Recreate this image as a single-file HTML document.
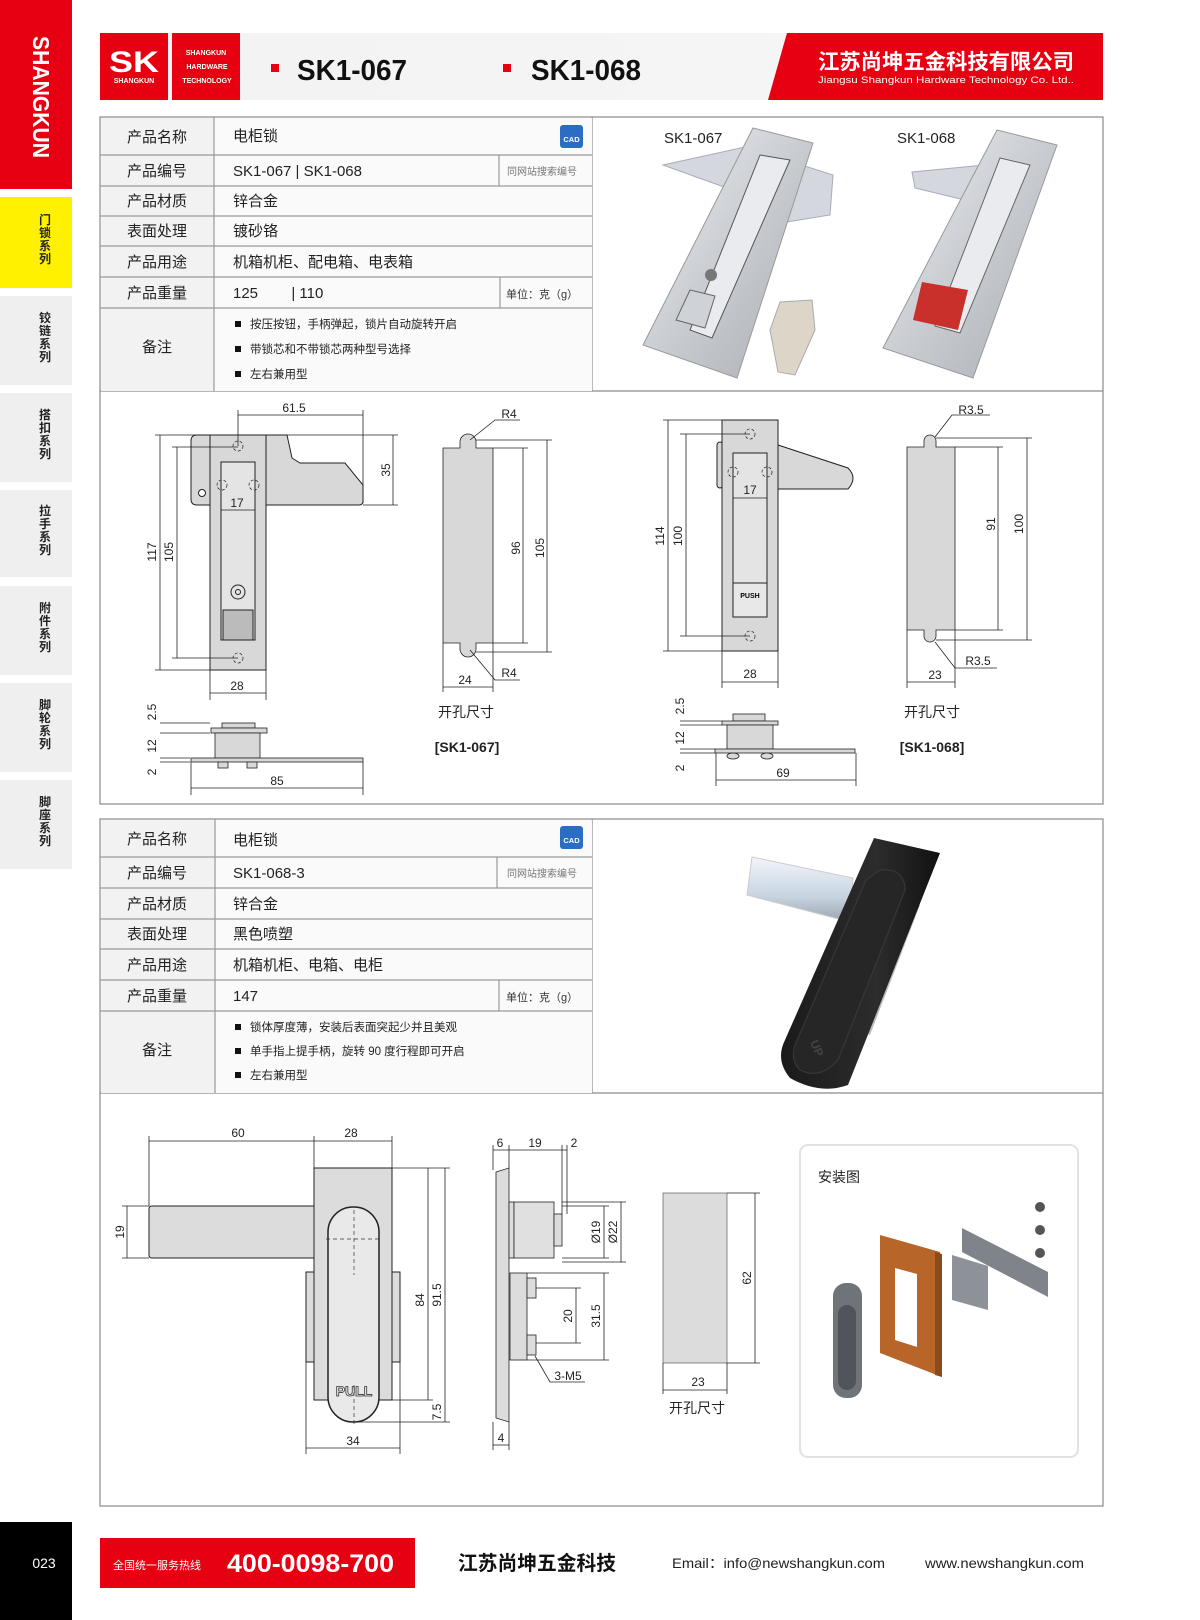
<!DOCTYPE html>
<html><head><meta charset="utf-8"><style>
html,body{margin:0;padding:0;background:#fff;}
svg{display:block;}
text{font-family:"Liberation Sans","Noto Sans CJK SC",sans-serif;}
.lb{font-size:15px;fill:#222;text-anchor:middle;}
.vl{font-size:15px;fill:#222;}
.sm{font-size:10px;fill:#777;}
.nt{font-size:11.5px;fill:#222;}
.dm{font-size:12px;fill:#222;}
.tab{font-size:12px;font-weight:bold;fill:#222;}
</style></head><body>
<svg width="1200" height="1620" viewBox="0 0 1200 1620" xmlns="http://www.w3.org/2000/svg">
<defs>
<linearGradient id="hg" x1="0" x2="1"><stop offset="0" stop-color="#f2f2f2"/><stop offset="1" stop-color="#f7f7f7"/></linearGradient>
<linearGradient id="met" x1="0" x2="1" y1="0" y2="1"><stop offset="0" stop-color="#eef0f3"/><stop offset="0.5" stop-color="#c9ccd1"/><stop offset="1" stop-color="#a8acb2"/></linearGradient>
<linearGradient id="blk" x1="0" x2="1"><stop offset="0" stop-color="#1a1a1a"/><stop offset="0.6" stop-color="#2c2c2c"/><stop offset="1" stop-color="#111"/></linearGradient>
<linearGradient id="bar" x1="0" x2="0" y1="0" y2="1"><stop offset="0" stop-color="#f3f6fa"/><stop offset="0.6" stop-color="#c8d4e0"/><stop offset="1" stop-color="#9aa5b0"/></linearGradient>
</defs>

<!-- sidebar -->
<rect x="0" y="0" width="72" height="189" fill="#e60012"/>
<text transform="translate(33,36) rotate(90)" font-size="23" font-weight="bold" fill="#fff" textLength="122" lengthAdjust="spacingAndGlyphs">SHANGKUN</text>
<rect x="0" y="197" width="72" height="91" fill="#fff100"/>
<g class="tab" text-anchor="middle">
<text x="45" y="224" class="tab">门</text><text x="45" y="237" class="tab">锁</text><text x="45" y="250" class="tab">系</text><text x="45" y="263" class="tab">列</text>
</g>
<rect x="0" y="296" width="72" height="89" fill="#efefef"/>
<rect x="0" y="393" width="72" height="89" fill="#efefef"/>
<rect x="0" y="490" width="72" height="87" fill="#efefef"/>
<rect x="0" y="586" width="72" height="89" fill="#efefef"/>
<rect x="0" y="683" width="72" height="89" fill="#efefef"/>
<rect x="0" y="780" width="72" height="89" fill="#efefef"/>
<g text-anchor="middle">
<text x="45" y="322" class="tab">铰</text><text x="45" y="335" class="tab">链</text><text x="45" y="348" class="tab">系</text><text x="45" y="361" class="tab">列</text>
<text x="45" y="419" class="tab">搭</text><text x="45" y="432" class="tab">扣</text><text x="45" y="445" class="tab">系</text><text x="45" y="458" class="tab">列</text>
<text x="45" y="515" class="tab">拉</text><text x="45" y="528" class="tab">手</text><text x="45" y="541" class="tab">系</text><text x="45" y="554" class="tab">列</text>
<text x="45" y="612" class="tab">附</text><text x="45" y="625" class="tab">件</text><text x="45" y="638" class="tab">系</text><text x="45" y="651" class="tab">列</text>
<text x="45" y="709" class="tab">脚</text><text x="45" y="722" class="tab">轮</text><text x="45" y="735" class="tab">系</text><text x="45" y="748" class="tab">列</text>
<text x="45" y="806" class="tab">脚</text><text x="45" y="819" class="tab">座</text><text x="45" y="832" class="tab">系</text><text x="45" y="845" class="tab">列</text>
</g>

<!-- header -->
<rect x="100" y="33" width="1003" height="67" fill="url(#hg)"/>
<rect x="100" y="33" width="68" height="67" fill="#e60012"/>
<rect x="172" y="33" width="68" height="67" fill="#e60012"/>
<text x="134" y="72" font-size="30" font-weight="bold" fill="#fff" text-anchor="middle" textLength="50" lengthAdjust="spacingAndGlyphs">SK</text>
<text x="134" y="83" font-size="7" font-weight="bold" fill="#fff" text-anchor="middle">SHANGKUN</text>
<text x="206" y="55" font-size="7" font-weight="bold" fill="#fff" text-anchor="middle">SHANGKUN</text>
<text x="207" y="69" font-size="7" font-weight="bold" fill="#fff" text-anchor="middle">HARDWARE</text>
<text x="207" y="83" font-size="7" font-weight="bold" fill="#fff" text-anchor="middle">TECHNOLOGY</text>
<rect x="271" y="64" width="8" height="8" fill="#e60012"/>
<text x="297" y="80" font-size="29" font-weight="bold" fill="#111" textLength="110" lengthAdjust="spacingAndGlyphs">SK1-067</text>
<rect x="503" y="64" width="8" height="8" fill="#e60012"/>
<text x="531" y="80" font-size="29" font-weight="bold" fill="#111" textLength="110" lengthAdjust="spacingAndGlyphs">SK1-068</text>
<polygon points="787,33 1103,33 1103,100 768,100" fill="#e60012"/>
<text x="946" y="69" font-size="21" font-weight="bold" fill="#fff" text-anchor="middle" textLength="256" lengthAdjust="spacingAndGlyphs">江苏尚坤五金科技有限公司</text>
<text x="946" y="83" font-size="9.5" fill="#fff" text-anchor="middle" textLength="256" lengthAdjust="spacingAndGlyphs">Jiangsu Shangkun Hardware Technology Co. Ltd..</text>

<!-- ===== Section 1 table ===== -->
<g stroke="#8a8a8a" stroke-width="1.2" fill="none">
<rect x="100" y="117" width="1003" height="687"/>
<line x1="100" y1="391" x2="1103" y2="391"/>
<line x1="592" y1="117" x2="592" y2="391"/>
</g>
<rect x="101" y="118" width="113" height="273" fill="#f2f2f2"/>
<rect x="214" y="118" width="378" height="273" fill="#fafafa"/>
<g stroke="#9a9a9a" stroke-width="1.2">
<line x1="100" y1="155" x2="592" y2="155"/><line x1="100" y1="186" x2="592" y2="186"/>
<line x1="100" y1="216" x2="592" y2="216"/><line x1="100" y1="246" x2="592" y2="246"/>
<line x1="100" y1="277" x2="592" y2="277"/><line x1="100" y1="308" x2="592" y2="308"/>
<line x1="214" y1="117" x2="214" y2="391"/>
<line x1="499" y1="155" x2="499" y2="186"/><line x1="500" y1="277" x2="500" y2="308"/>
</g>
<text x="157" y="142" class="lb">产品名称</text><text x="157" y="176" class="lb">产品编号</text>
<text x="157" y="206" class="lb">产品材质</text><text x="157" y="236" class="lb">表面处理</text>
<text x="157" y="267" class="lb">产品用途</text><text x="157" y="298" class="lb">产品重量</text>
<text x="157" y="352" class="lb">备注</text>
<text x="233" y="141" class="vl">电柜锁</text>
<text x="233" y="176" class="vl">SK1-067 | SK1-068</text>
<text x="233" y="206" class="vl">锌合金</text>
<text x="233" y="236" class="vl">镀砂铬</text>
<text x="233" y="267" class="vl">机箱机柜、配电箱、电表箱</text>
<text x="233" y="298" class="vl">125&#160;&#160;&#160;&#160;&#160;&#160;&#160;&#160;| 110</text>
<text x="507" y="175" class="sm">同网站搜索编号</text>
<text x="506" y="298" font-size="11" fill="#333">单位：克（g）</text>
<rect x="560" y="125" width="23" height="23" rx="3" fill="#2b6cc4"/><text x="571.5" y="142" font-size="7.5" fill="#fff" text-anchor="middle" font-weight="bold">CAD</text>
<rect x="235" y="321" width="6" height="6" fill="#111"/><text x="250" y="328" class="nt">按压按钮，手柄弹起，锁片自动旋转开启</text>
<rect x="235" y="346" width="6" height="6" fill="#111"/><text x="250" y="353" class="nt">带锁芯和不带锁芯两种型号选择</text>
<rect x="235" y="371" width="6" height="6" fill="#111"/><text x="250" y="378" class="nt">左右兼用型</text>

<!-- photos 1 -->
<text x="664" y="143" font-size="15" fill="#222">SK1-067</text>
<text x="897" y="143" font-size="15" fill="#222">SK1-068</text>
<polygon points="663,165 745,147 833,175 830,215 787,222 760,200" fill="#d4d8de" stroke="#aab" stroke-width="1"/>
<polygon points="753,128 813,143 737,378 643,345" fill="url(#met)" stroke="#999" stroke-width="1"/>
<polygon points="760,155 790,160 712,338 690,330" fill="#e9ebee" stroke="#555" stroke-width="1"/>
<circle cx="711" cy="275" r="6" fill="#777"/>
<polygon points="690,290 715,296 705,328 676,320" fill="#cfd2d6" stroke="#666"/>
<polygon points="780,302 812,300 815,330 795,375 778,372 770,330" fill="#ddd6c8" stroke="#aaa"/>
<polygon points="912,172 985,165 965,200 915,188" fill="#d4d8de" stroke="#aab"/>
<polygon points="997,130 1057,145 973,378 883,348" fill="url(#met)" stroke="#999"/>
<polygon points="1000,158 1030,165 960,333 935,326" fill="#e9ebee" stroke="#666"/>
<polygon points="922,282 968,290 958,330 913,320" fill="#c9302c"/>

<!-- drawing 1 -->
<g stroke="#222" stroke-width="1" fill="#d8d8d8">
<path d="M191,441 q0,-6 6,-6 h13 v70 h-13 q-6,0 -6,-6 z"/>
<path d="M266,435 h21 l5,23 l8,5 h45 l18,22 v16 q0,4 -4,4 h-93 z"/>
<rect x="210" y="435" width="56" height="235"/>
<rect x="221" y="462" width="34" height="178" fill="#e4e4e4"/>
<rect x="223" y="610" width="30" height="30" fill="#bbb"/>
</g>
<circle cx="202" cy="493" r="3.5" fill="#fff" stroke="#222"/>
<circle cx="238" cy="592" r="7" fill="none" stroke="#222"/><circle cx="238" cy="592" r="2.5" fill="none" stroke="#222"/>
<g fill="none" stroke="#333" stroke-width="0.8" stroke-dasharray="3,2">
<circle cx="238" cy="446" r="5"/><circle cx="238" cy="658" r="5"/><circle cx="222" cy="485" r="5"/><circle cx="254" cy="485" r="5"/>
</g>
<g stroke="#222" stroke-width="0.8" fill="none">
<line x1="160" y1="435" x2="160" y2="670"/><line x1="155" y1="435" x2="210" y2="435"/><line x1="155" y1="670" x2="210" y2="670"/>
<line x1="177" y1="447" x2="177" y2="658"/><line x1="172" y1="447" x2="238" y2="447"/><line x1="172" y1="658" x2="238" y2="658"/>
<line x1="238" y1="415" x2="363" y2="415"/><line x1="238" y1="410" x2="238" y2="446"/><line x1="363" y1="410" x2="363" y2="503"/>
<line x1="393" y1="435" x2="393" y2="505"/><line x1="287" y1="435" x2="398" y2="435"/><line x1="363" y1="505" x2="398" y2="505"/>
<line x1="221" y1="510" x2="255" y2="510"/>
<line x1="210" y1="693" x2="266" y2="693"/><line x1="210" y1="670" x2="210" y2="700"/><line x1="266" y1="670" x2="266" y2="700"/>
</g>
<text x="294" y="412" class="dm" text-anchor="middle">61.5</text>
<text transform="translate(390,470) rotate(-90)" class="dm" text-anchor="middle">35</text>
<text transform="translate(156,552) rotate(-90)" class="dm" text-anchor="middle">117</text>
<text transform="translate(173,552) rotate(-90)" class="dm" text-anchor="middle">105</text>
<text x="237" y="507" class="dm" text-anchor="middle">17</text>
<text x="237" y="690" class="dm" text-anchor="middle">28</text>
<!-- side view 1 -->
<g stroke="#222" stroke-width="0.8" fill="#d8d8d8">
<rect x="222" y="723" width="33" height="5"/><rect x="211" y="728" width="56" height="5"/>
<rect x="215" y="733" width="45" height="25"/><rect x="191" y="758" width="172" height="4"/>
<rect x="218" y="762" width="10" height="6"/><rect x="247" y="762" width="10" height="6"/>
<line x1="191" y1="788" x2="363" y2="788"/><line x1="191" y1="762" x2="191" y2="795"/><line x1="363" y1="762" x2="363" y2="795"/>
<line x1="160" y1="723" x2="210" y2="723"/><line x1="160" y1="733" x2="210" y2="733"/><line x1="160" y1="758" x2="190" y2="758"/><line x1="160" y1="762" x2="190" y2="762"/>
</g>
<text x="277" y="785" class="dm" text-anchor="middle">85</text>
<text transform="translate(156,712) rotate(-90)" class="dm" text-anchor="middle">2.5</text>
<text transform="translate(156,746) rotate(-90)" class="dm" text-anchor="middle">12</text>
<text transform="translate(156,772) rotate(-90)" class="dm" text-anchor="middle">2</text>
<!-- cutout 1 -->
<path d="M443,448 h17 v-6 a8,8 0 0 1 16,0 v6 h17 v195 h-17 v6 a8,8 0 0 1 -16,0 v-6 h-17 z" fill="#d8d8d8" stroke="#222" stroke-width="0.8"/>
<g stroke="#222" stroke-width="0.8" fill="none">
<line x1="523" y1="448" x2="523" y2="643"/><line x1="493" y1="448" x2="528" y2="448"/><line x1="493" y1="643" x2="528" y2="643"/>
<line x1="547" y1="440" x2="547" y2="652"/><line x1="476" y1="440" x2="552" y2="440"/><line x1="476" y1="652" x2="552" y2="652"/>
<line x1="443" y1="687" x2="493" y2="687"/><line x1="443" y1="643" x2="443" y2="692"/><line x1="493" y1="643" x2="493" y2="692"/>
<polyline points="470,440 495,420 520,420"/><polyline points="470,650 495,680 520,680"/>
</g>
<text x="509" y="418" class="dm" text-anchor="middle">R4</text><text x="509" y="677" class="dm" text-anchor="middle">R4</text>
<text transform="translate(520,548) rotate(-90)" class="dm" text-anchor="middle">96</text>
<text transform="translate(544,548) rotate(-90)" class="dm" text-anchor="middle">105</text>
<text x="465" y="684" class="dm" text-anchor="middle">24</text>
<text x="466" y="717" font-size="14" fill="#222" text-anchor="middle">开孔尺寸</text>
<text x="467" y="752" font-size="14" font-weight="bold" fill="#222" text-anchor="middle">[SK1-067]</text>

<!-- drawing 2 (068) -->
<g stroke="#222" stroke-width="1" fill="#d8d8d8">
<rect x="717" y="442" width="6" height="46" rx="3"/>
<path d="M778,445 l70,23 q10,10 0,21 h-70 z"/>
<rect x="722" y="420" width="56" height="231"/>
<rect x="733" y="453" width="34" height="164" fill="#e4e4e4"/>
<rect x="733" y="583" width="34" height="34" fill="#e8e8e8"/>
</g>
<text x="750" y="598" font-size="7" font-weight="bold" text-anchor="middle">PUSH</text>
<g fill="none" stroke="#333" stroke-width="0.8" stroke-dasharray="3,2">
<circle cx="750" cy="434" r="5"/><circle cx="750" cy="636" r="5"/><circle cx="733" cy="472" r="5"/><circle cx="767" cy="472" r="5"/>
</g>
<g stroke="#222" stroke-width="0.8" fill="none">
<line x1="668" y1="420" x2="668" y2="651"/><line x1="663" y1="420" x2="722" y2="420"/><line x1="663" y1="651" x2="722" y2="651"/>
<line x1="686" y1="434" x2="686" y2="636"/><line x1="680" y1="434" x2="750" y2="434"/><line x1="680" y1="636" x2="750" y2="636"/>
<line x1="733" y1="498" x2="767" y2="498"/>
<line x1="722" y1="682" x2="778" y2="682"/><line x1="722" y1="651" x2="722" y2="688"/><line x1="778" y1="651" x2="778" y2="688"/>
</g>
<text x="750" y="494" class="dm" text-anchor="middle">17</text>
<text x="750" y="678" class="dm" text-anchor="middle">28</text>
<text transform="translate(664,536) rotate(-90)" class="dm" text-anchor="middle">114</text>
<text transform="translate(682,536) rotate(-90)" class="dm" text-anchor="middle">100</text>
<g stroke="#222" stroke-width="0.8" fill="#d8d8d8">
<rect x="733" y="714" width="32" height="7"/><rect x="722" y="721" width="56" height="4"/>
<rect x="727" y="725" width="46" height="24"/><rect x="715" y="749" width="140" height="4"/>
<ellipse cx="733" cy="756" rx="6" ry="3"/><ellipse cx="767" cy="756" rx="6" ry="3"/>
<line x1="716" y1="780" x2="856" y2="780"/><line x1="716" y1="753" x2="716" y2="786"/><line x1="856" y1="753" x2="856" y2="786"/>
<line x1="680" y1="721" x2="722" y2="721"/><line x1="680" y1="725" x2="722" y2="725"/><line x1="680" y1="749" x2="715" y2="749"/><line x1="680" y1="753" x2="715" y2="753"/>
</g>
<text x="783" y="777" class="dm" text-anchor="middle">69</text>
<text transform="translate(684,706) rotate(-90)" class="dm" text-anchor="middle">2.5</text>
<text transform="translate(684,738) rotate(-90)" class="dm" text-anchor="middle">12</text>
<text transform="translate(684,768) rotate(-90)" class="dm" text-anchor="middle">2</text>
<path d="M907,447 h17 v-6 a6,6 0 0 1 12,0 v6 h19 v183 h-19 v6 a6,6 0 0 1 -12,0 v-6 h-17 z" fill="#d8d8d8" stroke="#222" stroke-width="0.8"/>
<g stroke="#222" stroke-width="0.8" fill="none">
<line x1="998" y1="447" x2="998" y2="630"/><line x1="955" y1="447" x2="1003" y2="447"/><line x1="955" y1="630" x2="1003" y2="630"/>
<line x1="1027" y1="438" x2="1027" y2="640"/><line x1="936" y1="438" x2="1032" y2="438"/><line x1="936" y1="640" x2="1032" y2="640"/>
<line x1="907" y1="682" x2="955" y2="682"/><line x1="907" y1="630" x2="907" y2="688"/><line x1="955" y1="630" x2="955" y2="688"/>
<polyline points="935,437 952,415 990,415"/><polyline points="935,642 955,668 997,668"/>
</g>
<text x="971" y="414" class="dm" text-anchor="middle">R3.5</text><text x="978" y="665" class="dm" text-anchor="middle">R3.5</text>
<text transform="translate(995,524) rotate(-90)" class="dm" text-anchor="middle">91</text>
<text transform="translate(1023,524) rotate(-90)" class="dm" text-anchor="middle">100</text>
<text x="935" y="679" class="dm" text-anchor="middle">23</text>
<text x="932" y="717" font-size="14" fill="#222" text-anchor="middle">开孔尺寸</text>
<text x="932" y="752" font-size="14" font-weight="bold" fill="#222" text-anchor="middle">[SK1-068]</text>

<!-- ===== Section 2 ===== -->
<g stroke="#8a8a8a" stroke-width="1.2" fill="none">
<rect x="100" y="819" width="1003" height="687"/>
<line x1="100" y1="1093" x2="1103" y2="1093"/>
<line x1="592" y1="819" x2="592" y2="1093"/>
</g>
<rect x="101" y="820" width="114" height="273" fill="#f2f2f2"/>
<rect x="215" y="820" width="377" height="273" fill="#fafafa"/>
<g stroke="#9a9a9a" stroke-width="1.2">
<line x1="100" y1="857" x2="592" y2="857"/><line x1="100" y1="888" x2="592" y2="888"/>
<line x1="100" y1="919" x2="592" y2="919"/><line x1="100" y1="949" x2="592" y2="949"/>
<line x1="100" y1="980" x2="592" y2="980"/><line x1="100" y1="1011" x2="592" y2="1011"/>
<line x1="215" y1="819" x2="215" y2="1093"/>
<line x1="497" y1="857" x2="497" y2="888"/><line x1="499" y1="980" x2="499" y2="1011"/>
</g>
<text x="157" y="844" class="lb">产品名称</text><text x="157" y="878" class="lb">产品编号</text>
<text x="157" y="909" class="lb">产品材质</text><text x="157" y="939" class="lb">表面处理</text>
<text x="157" y="970" class="lb">产品用途</text><text x="157" y="1001" class="lb">产品重量</text>
<text x="157" y="1055" class="lb">备注</text>
<text x="233" y="845" class="vl">电柜锁</text>
<text x="233" y="878" class="vl">SK1-068-3</text>
<text x="233" y="909" class="vl">锌合金</text>
<text x="233" y="939" class="vl">黑色喷塑</text>
<text x="233" y="970" class="vl">机箱机柜、电箱、电柜</text>
<text x="233" y="1001" class="vl">147</text>
<text x="507" y="877" class="sm">同网站搜索编号</text>
<text x="506" y="1001" font-size="11" fill="#333">单位：克（g）</text>
<rect x="560" y="826" width="23" height="23" rx="3" fill="#2b6cc4"/><text x="571.5" y="843" font-size="7.5" fill="#fff" text-anchor="middle" font-weight="bold">CAD</text>
<rect x="235" y="1024" width="6" height="6" fill="#111"/><text x="250" y="1031" class="nt">锁体厚度薄，安装后表面突起少并且美观</text>
<rect x="235" y="1048" width="6" height="6" fill="#111"/><text x="250" y="1055" class="nt">单手指上提手柄，旋转 90 度行程即可开启</text>
<rect x="235" y="1072" width="6" height="6" fill="#111"/><text x="250" y="1079" class="nt">左右兼用型</text>

<!-- black handle photo -->
<polygon points="752,857 853,878 850,922 747,895" fill="url(#bar)" stroke="#ccc"/>
<polygon points="905,908 920,905 870,1035 855,1030" fill="#bbb"/>
<path d="M874,838 L940,853 L848,1085 Q820,1095 790,1078 Q775,1060 785,1040 Z" fill="url(#blk)"/>
<path d="M880,870 Q905,868 905,890 L838,1060 Q820,1080 800,1070 Q790,1060 795,1045 L866,880 Z" fill="#262626" stroke="#3a3a3a"/>
<text transform="translate(810,1042) rotate(68)" font-size="12" font-weight="bold" fill="#444">UP</text>

<!-- drawing 3 -->
<g stroke="#222" stroke-width="1" fill="#dcdcdc">
<path d="M149,1209 q0,-3 3,-3 h162 v52 h-162 q-3,0 -3,-3 z"/>
<rect x="306" y="1272" width="94" height="90"/>
<rect x="314" y="1168" width="78" height="232"/>
<rect x="328" y="1207" width="51" height="215" rx="25" fill="#e9e9e9" stroke-width="1.5"/>
</g>
<text x="354" y="1396" font-size="14" font-weight="bold" fill="#eee" stroke="#333" stroke-width="0.8" text-anchor="middle">PULL</text>
<g stroke="#333" stroke-width="0.7" stroke-dasharray="4,3"><line x1="354" y1="1210" x2="354" y2="1275"/><line x1="326" y1="1239" x2="382" y2="1239"/><line x1="354" y1="1385" x2="354" y2="1425"/></g>
<g stroke="#222" stroke-width="0.8" fill="none">
<line x1="149" y1="1141" x2="392" y2="1141"/><line x1="149" y1="1136" x2="149" y2="1206"/><line x1="314" y1="1136" x2="314" y2="1168"/><line x1="392" y1="1136" x2="392" y2="1168"/>
<line x1="127" y1="1206" x2="127" y2="1258"/><line x1="122" y1="1206" x2="149" y2="1206"/><line x1="122" y1="1258" x2="149" y2="1258"/>
<line x1="428" y1="1168" x2="428" y2="1400"/><line x1="392" y1="1168" x2="450" y2="1168"/><line x1="392" y1="1400" x2="433" y2="1400"/>
<line x1="445" y1="1168" x2="445" y2="1422"/><line x1="354" y1="1422" x2="450" y2="1422"/>
<line x1="306" y1="1448" x2="400" y2="1448"/><line x1="306" y1="1362" x2="306" y2="1454"/><line x1="400" y1="1362" x2="400" y2="1454"/>
</g>
<text x="238" y="1137" class="dm" text-anchor="middle">60</text><text x="351" y="1137" class="dm" text-anchor="middle">28</text>
<text transform="translate(124,1232) rotate(-90)" class="dm" text-anchor="middle">19</text>
<text transform="translate(424,1300) rotate(-90)" class="dm" text-anchor="middle">84</text>
<text transform="translate(441,1295) rotate(-90)" class="dm" text-anchor="middle">91.5</text>
<text transform="translate(441,1412) rotate(-90)" class="dm" text-anchor="middle">7.5</text>
<text x="353" y="1445" class="dm" text-anchor="middle">34</text>
<!-- side -->
<g stroke="#222" stroke-width="0.8" fill="#dcdcdc">
<path d="M496,1172 l13,-4 v254 l-13,-4 z"/>
<rect x="509" y="1202" width="5" height="56"/>
<rect x="514" y="1202" width="40" height="56" fill="#e0e0e0"/>
<rect x="554" y="1214" width="8" height="32"/>
<rect x="510" y="1273" width="17" height="87"/>
<rect x="527" y="1278" width="9" height="20"/><rect x="527" y="1335" width="9" height="20"/>
</g>
<g stroke="#222" stroke-width="0.8" fill="none">
<line x1="493" y1="1150" x2="567" y2="1150"/><line x1="493" y1="1145" x2="493" y2="1170"/><line x1="509" y1="1145" x2="509" y2="1168"/><line x1="562" y1="1145" x2="562" y2="1214"/><line x1="567" y1="1145" x2="567" y2="1214"/>
<line x1="604" y1="1206" x2="604" y2="1258"/><line x1="562" y1="1206" x2="609" y2="1206"/><line x1="562" y1="1258" x2="609" y2="1258"/>
<line x1="621" y1="1202" x2="621" y2="1262"/><line x1="562" y1="1202" x2="626" y2="1202"/><line x1="562" y1="1262" x2="626" y2="1262"/>
<line x1="576" y1="1288" x2="576" y2="1343"/><line x1="536" y1="1288" x2="581" y2="1288"/><line x1="536" y1="1343" x2="581" y2="1343"/>
<line x1="604" y1="1273" x2="604" y2="1360"/><line x1="527" y1="1273" x2="609" y2="1273"/><line x1="527" y1="1360" x2="609" y2="1360"/>
<polyline points="535,1356 550,1382 585,1382"/>
<line x1="493" y1="1445" x2="509" y2="1445"/><line x1="493" y1="1422" x2="493" y2="1450"/><line x1="509" y1="1422" x2="509" y2="1450"/>
</g>
<text x="500" y="1147" class="dm" text-anchor="middle">6</text><text x="535" y="1147" class="dm" text-anchor="middle">19</text><text x="574" y="1147" class="dm" text-anchor="middle">2</text>
<text transform="translate(600,1232) rotate(-90)" class="dm" text-anchor="middle">Ø19</text>
<text transform="translate(617,1232) rotate(-90)" class="dm" text-anchor="middle">Ø22</text>
<text transform="translate(572,1316) rotate(-90)" class="dm" text-anchor="middle">20</text>
<text transform="translate(600,1316) rotate(-90)" class="dm" text-anchor="middle">31.5</text>
<text x="568" y="1380" class="dm" text-anchor="middle">3-M5</text>
<text x="501" y="1442" class="dm" text-anchor="middle">4</text>
<!-- cutout 3 -->
<rect x="663" y="1193" width="64" height="170" fill="#dcdcdc" stroke="#444" stroke-width="0.6"/>
<g stroke="#222" stroke-width="0.8" fill="none">
<line x1="755" y1="1193" x2="755" y2="1363"/><line x1="727" y1="1193" x2="760" y2="1193"/><line x1="727" y1="1363" x2="760" y2="1363"/>
<line x1="663" y1="1390" x2="727" y2="1390"/><line x1="663" y1="1363" x2="663" y2="1394"/><line x1="727" y1="1363" x2="727" y2="1394"/>
</g>
<text transform="translate(751,1278) rotate(-90)" class="dm" text-anchor="middle">62</text>
<text x="698" y="1386" class="dm" text-anchor="middle">23</text>
<text x="697" y="1413" font-size="14" fill="#222" text-anchor="middle">开孔尺寸</text>
<!-- install -->
<rect x="800" y="1145" width="278" height="312" rx="8" fill="#fff" stroke="#e2e2e2" stroke-width="2"/>
<text x="818" y="1182" font-size="14" fill="#222">安装图</text>
<polygon points="880,1235 940,1252 942,1377 880,1353" fill="#b8652a"/>
<polygon points="895,1268 917,1274 917,1347 895,1340" fill="#fff"/>
<polygon points="935,1252 942,1254 942,1377 935,1375" fill="#8a4a1e"/>
<rect x="833" y="1283" width="29" height="115" rx="13" fill="#6f747b"/>
<rect x="838" y="1305" width="18" height="85" rx="9" fill="#50555b"/>
<polygon points="952,1255 988,1266 988,1310 952,1300" fill="#8d9198"/>
<polygon points="962,1228 1048,1272 1048,1297 962,1252" fill="#7f848b"/>
<circle cx="1040" cy="1207" r="5" fill="#555"/><circle cx="1040" cy="1230" r="5" fill="#555"/><circle cx="1040" cy="1253" r="5" fill="#555"/>

<!-- footer -->
<rect x="0" y="1522" width="72" height="98" fill="#000"/>
<text x="44" y="1568" font-size="14" fill="#fff" text-anchor="middle">023</text>
<rect x="100" y="1538" width="315" height="50" fill="#e60012"/>
<text x="113" y="1569" font-size="11" fill="#fff">全国统一服务热线</text>
<text x="227" y="1572" font-size="25" font-weight="bold" fill="#fff" textLength="167" lengthAdjust="spacingAndGlyphs">400-0098-700</text>
<text x="458" y="1570" font-size="20" font-weight="bold" fill="#111" textLength="158" lengthAdjust="spacingAndGlyphs">江苏尚坤五金科技</text>
<text x="672" y="1568" font-size="14" fill="#222" textLength="213" lengthAdjust="spacingAndGlyphs">Email：info@newshangkun.com</text>
<text x="925" y="1568" font-size="14" fill="#222" textLength="159" lengthAdjust="spacingAndGlyphs">www.newshangkun.com</text>
</svg>
</body></html>
